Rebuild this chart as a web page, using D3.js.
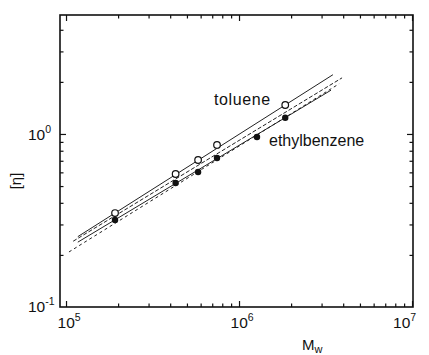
<!DOCTYPE html>
<html>
<head>
<meta charset="utf-8">
<script src="https://cdn.jsdelivr.net/npm/d3@7"></script>
<style>
  html, body { margin: 0; padding: 0; background: #fff; }
  svg { display: block; }
  text { font-family: "Liberation Sans", Arial, sans-serif; fill: #111; }
</style>
</head>
<body>
<script>
// ---------- data ----------
const tolueneM   = [1.92e5, 4.3e5, 5.8e5, 7.46e5, 1.85e6];
const tolueneEta = [0.349, 0.587, 0.707, 0.864, 1.47];
const ethylM     = [1.92e5, 4.3e5, 5.8e5, 7.46e5, 1.27e6, 1.85e6];
const ethylEta   = [0.318, 0.521, 0.603, 0.727, 0.96, 1.24];

// fitted lines (endpoints, M and [eta])
const lineNames  = ["toluene-solid", "toluene-dashed", "ethyl-solid", "ethyl-dashed"];
const lineM      = [[1.17e5, 3.49e6], [1.10e5, 3.94e6], [1.17e5, 3.40e6], [1.04e5, 3.79e6]];
const lineEta    = [[0.255, 2.20], [0.240, 2.11], [0.237, 1.79], [0.208, 1.95]];
const lineDash   = [null, "4,2", null, "3,3"];

const xMajor = [1e5, 1e6, 1e7];
const xMajorExp = ["5", "6", "7"];
const yMajor = [0.1, 1];
const yMajorExp = ["-1", "0"];
const seriesLabels = ["toluene", "ethylbenzene"];

// ---------- layout ----------
const W = 429, H = 355;
const svg = d3.select("body").append("svg").attr("width", W).attr("height", H);

const x = d3.scaleLog().domain([9.23e4, 1.013e7]).range([60, 413]);
const y = d3.scaleLog().domain([0.1, 4.87]).range([307, 15]);

function minorTicks(scale) {
  const [a, b] = scale.domain();
  const out = [];
  for (let e = Math.floor(Math.log10(a)); e <= Math.ceil(Math.log10(b)); e++) {
    for (let k = 2; k <= 9; k++) {
      const v = k * Math.pow(10, e);
      if (v > a && v < b) out.push(v);
    }
  }
  return out;
}
const xMinor = minorTicks(x);
const yMinor = minorTicks(y);

const [x0, x1] = x.range();
const [y0, y1] = y.range();

// axes with inward ticks
function addAxis(gen, tr, vals, size) {
  const g = svg.append("g").attr("transform", tr)
    .call(gen.tickValues(vals).tickSizeInner(size).tickSizeOuter(0).tickFormat(""));
  g.select(".domain").remove();
  g.selectAll("line").attr("stroke", "#111").attr("stroke-width", 1.2);
}
const inX = v => v > x.domain()[0] && v < x.domain()[1];
const inY = v => v > y.domain()[0] && v < y.domain()[1];
addAxis(d3.axisBottom(x), `translate(0,${y0})`, xMajor.filter(inX), -6);
addAxis(d3.axisBottom(x), `translate(0,${y0})`, xMinor, -3.5);
addAxis(d3.axisTop(x), `translate(0,${y1})`, xMajor.filter(inX), -6);
addAxis(d3.axisTop(x), `translate(0,${y1})`, xMinor, -3.5);
addAxis(d3.axisLeft(y), `translate(${x0},0)`, yMajor.filter(inY), -6);
addAxis(d3.axisLeft(y), `translate(${x0},0)`, yMinor, -3.5);
addAxis(d3.axisRight(y), `translate(${x1},0)`, yMajor.filter(inY), -6);
addAxis(d3.axisRight(y), `translate(${x1},0)`, yMinor, -3.5);

// frame
svg.append("rect").attr("x", x0).attr("y", y1).attr("width", x1 - x0).attr("height", y0 - y1)
  .attr("fill", "none").attr("stroke", "#111").attr("stroke-width", 1.6);

// tick labels x
xMajor.forEach((v, i) => {
  const last = i === xMajor.length - 1;
  const t = svg.append("text").attr("y", 328).attr("font-size", 15.5)
    .attr("x", last ? x(v) - 19 : x(v) - 8.5);
  t.append("tspan").text("10");
  t.append("tspan").attr("font-size", 10.5).attr("dy", -7).text(xMajorExp[i]);
});
// tick labels y
yMajor.forEach((v, i) => {
  const t = svg.append("text").attr("x", 28).attr("y", y(v) + (v === 0.1 ? 5 : 6)).attr("font-size", 15.5);
  t.append("tspan").text("10");
  t.append("tspan").attr("font-size", 10.5).attr("dy", -7).text(yMajorExp[i]);
});

// axis titles
const xt = svg.append("text").attr("x", 302).attr("y", 350).attr("font-size", 15);
xt.append("tspan").text("M");
xt.append("tspan").attr("font-size", 11).attr("dy", 3).text("w");
svg.append("text").attr("transform", "translate(21,181) rotate(-90)")
  .attr("text-anchor", "middle").attr("font-size", 15).text("[η]");

// lines
const lineGen = d3.line().x(d => x(d[0])).y(d => y(d[1]));
lineNames.forEach((n, i) => {
  svg.append("path")
    .datum(lineM[i].map((m, j) => [m, lineEta[i][j]]))
    .attr("d", lineGen)
    .attr("fill", "none").attr("stroke", "#222")
    .attr("stroke-width", 1)
    .attr("stroke-dasharray", lineDash[i]);
});

// points
svg.selectAll("circle.open").data(tolueneM.map((m, i) => [m, tolueneEta[i]])).join("circle")
  .attr("class", "open").attr("cx", d => x(d[0])).attr("cy", d => y(d[1])).attr("r", 3.3)
  .attr("fill", "#fff").attr("stroke", "#111").attr("stroke-width", 1.2);
svg.selectAll("circle.fill").data(ethylM.map((m, i) => [m, ethylEta[i]])).join("circle")
  .attr("class", "fill").attr("cx", d => x(d[0])).attr("cy", d => y(d[1])).attr("r", 3.2)
  .attr("fill", "#111");

// series labels
svg.append("text").attr("x", 214).attr("y", 105).attr("font-size", 16)
  .attr("letter-spacing", 0.6).text(seriesLabels[0]);
svg.append("text").attr("x", 269).attr("y", 146).attr("font-size", 16).text(seriesLabels[1]);
</script>
</body>
</html>
